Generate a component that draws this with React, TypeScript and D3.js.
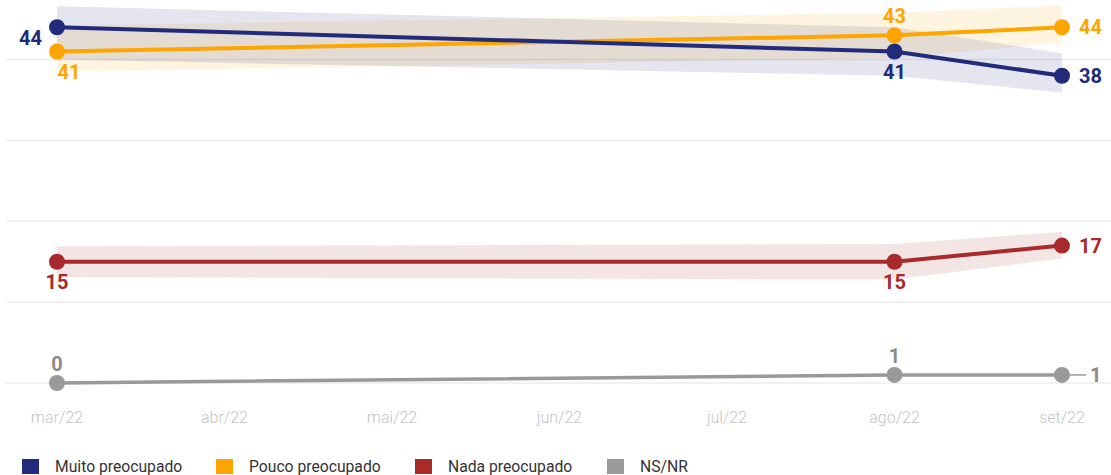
import React from "react";
import * as d3 from "d3";

const months = ["mar/22", "abr/22", "mai/22", "jun/22", "jul/22", "ago/22", "set/22"];
const obsMonths = ["mar/22", "ago/22", "set/22"];

const seriesNames = ["Muito preocupado", "Pouco preocupado", "Nada preocupado", "NS/NR"];
const muito = [44, 41, 38];
const pouco = [41, 43, 44];
const nada = [15, 15, 17];
const nsnr = [0, 1, 1];

const muitoLow = [40.0, 38.0, 35.9];
const muitoHigh = [46.6, 44.0, 40.8];
const poucoLow = [38.5, 40.2, 42.1];
const poucoHigh = [44.2, 45.8, 46.7];
const nadaLow = [13.1, 12.8, 15.4];
const nadaHigh = [16.9, 17.2, 18.7];

const yTicks = [0, 10, 20, 30, 40];

// label placement per series per point
const placements = [
  ["left", "below", "right"],
  ["below", "above", "right"],
  ["below", "below", "right"],
  ["above", "above", "rightLeader"],
];

const colors = ["#222a7b", "#ffa500", "#a82a2c", "#999999"];
const bandColors = ["rgba(34,42,123,0.12)", "rgba(255,165,0,0.12)", "rgba(168,42,44,0.12)", "none"];
const labelColors = ["#222a7b", "#ffa500", "#a82a2c", "#8c8c8c"];

export default function App() {
  const width = 1111;
  const height = 475;
  const x = d3.scalePoint<string>().domain(months).range([57, 1062]);
  const y = d3.scaleLinear().domain([0, 40]).range([383, 59.6]);

  const values = [muito, pouco, nada, nsnr];
  const lows = [muitoLow, poucoLow, nadaLow, null];
  const highs = [muitoHigh, poucoHigh, nadaHigh, null];

  const line = d3
    .line<number>()
    .x((_, i) => x(obsMonths[i]) as number)
    .y((d) => y(d));

  const area = (lo: number[], hi: number[]) =>
    d3
      .area<number>()
      .x((_, i) => x(obsMonths[i]) as number)
      .y0((_, i) => y(lo[i]))
      .y1((_, i) => y(hi[i]))(lo);

  const order = [3, 2, 1, 0];
  const legendX = [22, 216, 415, 607];

  const fontFamily = "Roboto, 'Noto Sans', sans-serif";

  return (
    <svg
      width={width}
      height={height}
      style={{ position: "absolute", left: 0, top: 0 }}
      fontFamily={fontFamily}
    >
      <rect width={width} height={height} fill="#ffffff" />
      {yTicks.map((t) => (
        <line key={t} x1={6} x2={1111} y1={y(t)} y2={y(t)} stroke="#ececec" strokeWidth={1.5} />
      ))}
      {months.map((m) => (
        <text
          key={m}
          x={x(m)}
          y={423}
          textAnchor="middle"
          fontSize={16}
          fontWeight={300}
          fill="#c4c4c4"
        >
          {m}
        </text>
      ))}
      {order.map((s) =>
        lows[s] ? (
          <path key={"b" + s} d={area(lows[s] as number[], highs[s] as number[]) || ""} fill={bandColors[s]} />
        ) : null
      )}
      {order.map((s) => (
        <g key={"l" + s}>
          <path d={line(values[s]) || ""} fill="none" stroke={colors[s]} strokeWidth={s === 3 ? 3.5 : 4} />
          {values[s].map((v, i) => (
            <circle key={i} cx={x(obsMonths[i])} cy={y(v)} r={8} fill={colors[s]} />
          ))}
        </g>
      ))}
      {order.map((s) => (
        <g key={"t" + s}>
          {values[s].map((v, i) => {
            const px = x(obsMonths[i]) as number;
            const py = y(v);
            const p = placements[s][i];
            let tx = px;
            let ty = py;
            let anchor: "start" | "middle" | "end" = "middle";
            let extra: React.ReactNode = null;
            if (p === "left") {
              tx = px - 15;
              ty = py + 18;
              anchor = "end";
            } else if (p === "right") {
              tx = px + 17;
              ty = py + 7;
              anchor = "start";
            } else if (p === "above") {
              ty = py - 12;
            } else if (p === "below") {
              ty = py + 27;
              if (s === 1 && i === 0) {
                tx = px + 12;
              }
            } else if (p === "rightLeader") {
              extra = <line x1={px + 8} x2={px + 24} y1={py} y2={py} stroke="#999999" strokeWidth={1.5} />;
              tx = px + 28;
              ty = py + 7;
              anchor = "start";
            }
            return (
              <g key={i}>
                {extra}
                <text
                  x={tx}
                  y={ty}
                  textAnchor={anchor}
                  fontSize={20}
                  fontWeight={700}
                  fill={labelColors[s]}
                >
                  {v}
                </text>
              </g>
            );
          })}
        </g>
      ))}
      {seriesNames.map((n, i) => (
        <g key={n}>
          <rect x={legendX[i]} y={459} width={17} height={15} fill={colors[i]} />
          <text x={legendX[i] + 33} y={472} fontSize={15.7} fill="#333333">
            {n}
          </text>
        </g>
      ))}
    </svg>
  );
}
